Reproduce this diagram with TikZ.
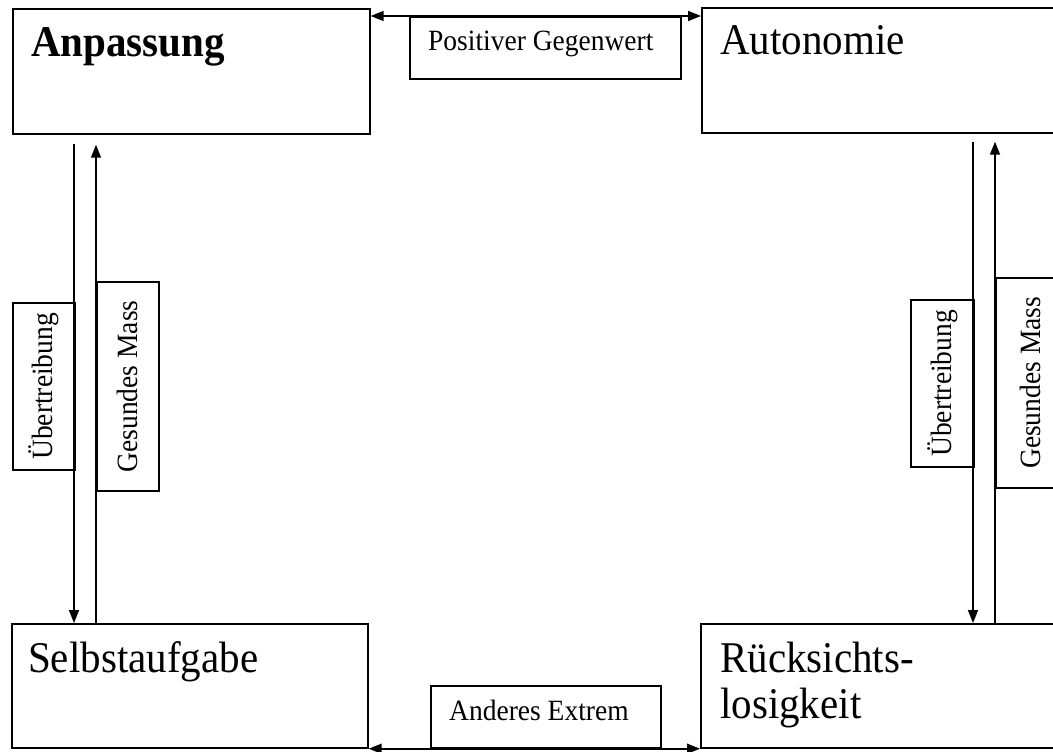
\documentclass[tikz,border=0pt]{standalone}
\usepackage{fontspec}
\setmainfont{Liberation Serif}
\usepackage{graphicx}
\usetikzlibrary{arrows.meta,calc}
\newcommand{\tallt}[1]{\scalebox{1}[1.07]{#1}}
\begin{document}
\begin{tikzpicture}[x=1pt,y=-1pt,
 box/.style={draw, line width=1.7pt, inner sep=0pt, anchor=north west},
 bigtxt/.style={font=\fontsize{41}{46}\selectfont, inner sep=0pt, anchor=base west},
 smalltxt/.style={font=\fontsize{27.5}{31}\selectfont, inner sep=0pt, anchor=base west},
 vlbl/.style={box, font=\fontsize{27.5}{31}\selectfont},
 arr/.style={line width=1.6pt, -{Triangle[length=13pt,width=10pt]}},
 arrb/.style={line width=1.6pt, {Triangle[length=13pt,width=10pt]}-{Triangle[length=13pt,width=10pt]}},
]
\useasboundingbox (0,0) rectangle (1053,752);
\clip (0,0) rectangle (1053,752);

% main boxes
\node[box, minimum width=357pt, minimum height=125pt] (anp) at (12,8) {};
\node[box, minimum width=360pt, minimum height=125pt] (aut) at (701,7) {};
\node[box, minimum width=356pt, minimum height=124pt] (selb) at (11,623) {};
\node[box, minimum width=360pt, minimum height=124pt] (rueck) at (700,623) {};

% main texts
\node[bigtxt, font=\fontsize{41}{46}\selectfont\bfseries] (anpT) at (31,57) {\tallt{Anpassung}};
\node[bigtxt] (autT) at (720,55) {\tallt{Autonomie}};
\node[bigtxt] (selbT) at (28,672) {\tallt{Selbstaufgabe}};
\node[bigtxt] (rueckT1) at (720,672) {\tallt{Rücksichts-}};
\node[bigtxt] (rueckT2) at (720,718) {\tallt{losigkeit}};

% horizontal label boxes
\node[box, minimum width=271pt, minimum height=62pt] (pos) at (409,16) {};
\node[smalltxt] (posT) at (428,51) {\tallt{Positiver Gegenwert}};
\node[box, minimum width=230pt, minimum height=62pt] (ext) at (430,685) {};
\node[smalltxt] (extT) at (449,720) {\tallt{Anderes Extrem}};

% vertical label boxes
\node[vlbl, minimum width=62pt, minimum height=167pt] (ueL) at (12,302) {\rotatebox{90}{\tallt{Übertreibung}}};
\node[vlbl, minimum width=62pt, minimum height=209pt] (gmL) at (96,281) {\rotatebox{90}{\tallt{Gesundes Mass}}};
\node[vlbl, minimum width=63pt, minimum height=167pt] (ueR) at (910,299) {\rotatebox{90}{\tallt{Übertreibung}}};
\node[vlbl, minimum width=70pt, minimum height=210pt] (gmR) at (995,277) {\rotatebox{90}{\tallt{Gesundes Mass}}};

% vertical connector lines
\coordinate (l1) at (74,0);
\coordinate (l2) at (96,0);
\coordinate (r1) at (973,0);
\coordinate (r2) at (995,0);

\draw[arr, shorten <=9pt] (l1 |- anp.south) -- (l1 |- selb.north);
\draw[arr, shorten >=10pt] (l2 |- selb.north) -- (l2 |- anp.south);
\draw[arr, shorten <=8pt] (r1 |- aut.south) -- (r1 |- rueck.north);
\draw[arr, shorten >=8pt] (r2 |- rueck.north) -- (r2 |- aut.south);

% horizontal connectors
\draw[arrb] (pos.north -| anp.east) -- (pos.north -| aut.west);
\draw[arrb] (ext.south -| selb.east) -- (ext.south -| rueck.west);
\end{tikzpicture}
\end{document}
